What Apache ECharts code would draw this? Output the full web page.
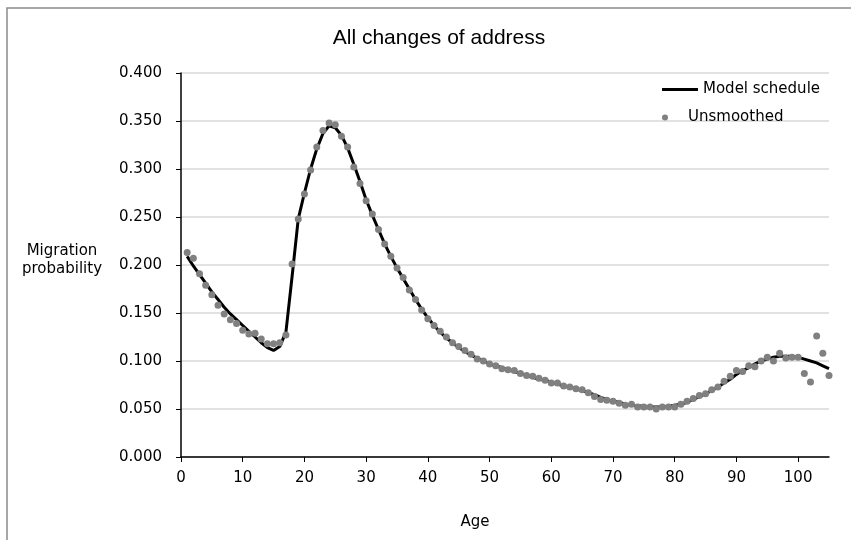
<!DOCTYPE html>
<html>
<head>
<meta charset="utf-8">
<script src="https://cdn.jsdelivr.net/npm/echarts@6/dist/echarts.min.js"></script>
<style>html,body{margin:0;padding:0;background:#fff}#c{width:851px;height:540px}</style>
</head>
<body>
<div id="c"></div>
<script>
// Ages 1..105
const ages = [];
for (let a = 1; a <= 105; a++) ages.push(a);

const modelSchedule = [
  0.209,0.199,0.190,0.181,0.172,0.164,0.156,0.149,0.143,0.137,
  0.131,0.125,0.119,0.114,0.111,0.115,0.130,0.188,0.248,0.275,
  0.300,0.321,0.337,0.345,0.343,0.335,0.322,0.305,0.287,0.268,
  0.252,0.237,0.222,0.209,0.197,0.186,0.175,0.164,0.154,0.145,
  0.137,0.130,0.124,0.119,0.114,0.110,0.106,0.103,0.100,0.097,
  0.095,0.093,0.091,0.089,0.087,0.085,0.083,0.081,0.080,0.078,
  0.076,0.074,0.073,0.071,0.069,0.067,0.065,0.062,0.060,0.058,
  0.057,0.055,0.054,0.053,0.053,0.052,0.052,0.052,0.053,0.054,
  0.055,0.057,0.060,0.063,0.066,0.069,0.073,0.077,0.081,0.086,
  0.090,0.093,0.097,0.100,0.102,0.104,0.105,0.105,0.105,0.104,
  0.102,0.100,0.098,0.095,0.092
];

const unsmoothed = [
  0.213,0.207,0.191,0.179,0.169,0.158,0.149,0.143,0.139,0.132,
  0.128,0.129,0.123,0.118,0.118,0.119,0.127,0.201,0.248,0.274,
  0.299,0.323,0.340,0.348,0.346,0.334,0.323,0.302,0.285,0.267,
  0.253,0.237,0.222,0.209,0.197,0.187,0.174,0.164,0.153,0.144,
  0.137,0.131,0.125,0.119,0.115,0.111,0.107,0.102,0.100,0.097,
  0.095,0.092,0.091,0.090,0.087,0.085,0.084,0.082,0.080,0.077,
  0.077,0.074,0.073,0.071,0.070,0.067,0.063,0.060,0.059,0.058,
  0.056,0.054,0.055,0.052,0.052,0.052,0.050,0.052,0.052,0.052,
  0.055,0.058,0.061,0.064,0.066,0.070,0.073,0.079,0.084,0.090,
  0.089,0.095,0.094,0.100,0.104,0.100,0.108,0.103,0.104,0.104,
  0.087,0.078,0.126,0.108,0.085
];

const xTickValues = [0,10,20,30,40,50,60,70,80,90,100];

const chart = echarts.init(document.getElementById('c'), null, {renderer: 'canvas'});
const F = 'DejaVu Sans';
chart.setOption({
  animation: false,
  backgroundColor: '#fff',
  title: {
    text: 'All changes of address',
    left: 434, top: 23, textAlign: 'center',
    textStyle: {fontFamily: 'Liberation Sans', fontSize: 21, fontWeight: 'normal', color: '#000'}
  },
  legend: [
    {
      data: [{name: 'Model schedule', icon: 'rect'}],
      left: 657, top: 77, itemWidth: 36, itemHeight: 3,
      textStyle: {fontFamily: F, fontSize: 15, color: '#000'}
    },
    {
      data: [{name: 'Unsmoothed', icon: 'circle'}],
      left: 657, top: 105, itemWidth: 36, itemHeight: 6,
      textStyle: {fontFamily: F, fontSize: 15, color: '#000'}
    }
  ],
  grid: {left: 181, right: 22, top: 73, bottom: 83, containLabel: false},
  xAxis: {
    type: 'value', min: 0, max: 105, interval: 10,
    name: 'Age', nameLocation: 'middle', nameGap: 58,
    nameTextStyle: {fontFamily: F, fontSize: 15, color: '#000', padding: [0, 60, 0, 0]},
    axisLine: {lineStyle: {color: '#000', width: 1.5}},
    axisTick: {show: true, inside: false, length: 5, lineStyle: {color: '#000'}, customValues: xTickValues},
    axisLabel: {fontFamily: F, fontSize: 15, color: '#000', margin: 14, customValues: xTickValues},
    splitLine: {show: false}
  },
  yAxis: {
    type: 'value', min: 0, max: 0.4, interval: 0.05,
    name: 'Migration\nprobability\n{s|}', nameLocation: 'middle', nameRotate: 0, nameGap: 119,
    nameTextStyle: {fontFamily: F, fontSize: 15, color: '#000', align: 'center', verticalAlign: 'middle', lineHeight: 18,
      rich: {s: {fontSize: 1, lineHeight: 9}}},
    axisLine: {show: true, lineStyle: {color: '#000', width: 1.5}},
    axisTick: {show: true, inside: false, length: 5, lineStyle: {color: '#000'}},
    axisLabel: {fontFamily: F, fontSize: 15, color: '#000', margin: 19, formatter: v => v.toFixed(3)},
    splitLine: {show: true, lineStyle: {color: '#d9d9d9', width: 1.5}}
  },
  series: [
    {
      name: 'Model schedule', type: 'line',
      data: ages.map((a, i) => [a, modelSchedule[i]]),
      showSymbol: false, symbol: 'none',
      lineStyle: {color: '#000', width: 3},
      itemStyle: {color: '#000'},
      z: 2
    },
    {
      name: 'Unsmoothed', type: 'scatter',
      data: ages.map((a, i) => [a, unsmoothed[i]]),
      symbol: 'circle', symbolSize: 7,
      itemStyle: {color: '#808080', opacity: 1},
      z: 3
    }
  ],
  graphic: [
    {
      type: 'rect', silent: true, z: -1,
      shape: {x: 7, y: 8, width: 900, height: 600},
      style: {fill: 'none', stroke: '#8c8c8c', lineWidth: 1.5}
    }
  ]
});
</script>
</body>
</html>
